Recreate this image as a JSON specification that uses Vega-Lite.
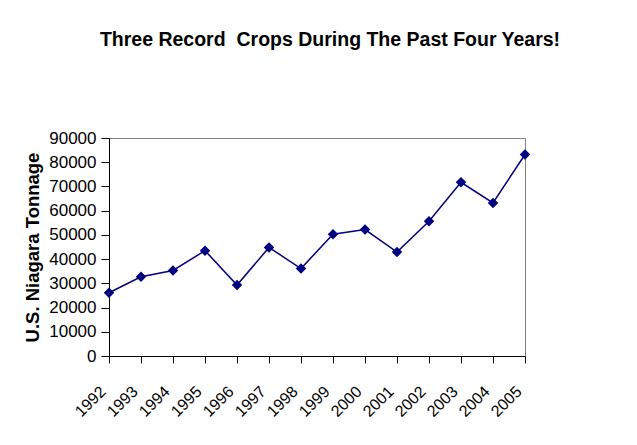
{
  "$schema": "https://vega.github.io/schema/vega-lite/v6.json",
  "width": 416,
  "height": 218,
  "autosize": "none",
  "padding": {"left": 109, "top": 138, "right": 112, "bottom": 89},
  "background": "white",
  "title": {
    "text": "Three Record\u00a0\u00a0Crops During The Past Four Years!",
    "font": "Liberation Sans",
    "fontSize": 19.5,
    "fontWeight": "bold",
    "color": "black",
    "anchor": "middle",
    "dx": 13,
    "offset": 79
  },
  "config": {
    "view": {"stroke": "#808080", "strokeWidth": 1},
    "axis": {
      "labelFont": "Liberation Sans",
      "titleFont": "Liberation Sans",
      "labelColor": "black",
      "titleColor": "black",
      "domainColor": "black",
      "tickColor": "black",
      "grid": false
    }
  },
  "data": {
    "values": [
      {"year": "1992", "tonnage": 26100},
      {"year": "1993", "tonnage": 32700},
      {"year": "1994", "tonnage": 35300},
      {"year": "1995", "tonnage": 43500},
      {"year": "1996", "tonnage": 29300},
      {"year": "1997", "tonnage": 44800},
      {"year": "1998", "tonnage": 36100},
      {"year": "1999", "tonnage": 50300},
      {"year": "2000", "tonnage": 52200},
      {"year": "2001", "tonnage": 42900},
      {"year": "2002", "tonnage": 55600},
      {"year": "2003", "tonnage": 71700},
      {"year": "2004", "tonnage": 63200},
      {"year": "2005", "tonnage": 83200}
    ]
  },
  "encoding": {
    "x": {
      "field": "year",
      "type": "ordinal",
      "scale": {"type": "point", "padding": 0},
      "axis": {
        "title": null,
        "labelAngle": -45,
        "labelFontSize": 16,
        "tickSize": 7,
        "labelPadding": 20,
        "labelOffset": -12,
        "domainWidth": 1
      }
    },
    "y": {
      "field": "tonnage",
      "type": "quantitative",
      "scale": {"domain": [0, 90000], "nice": false},
      "axis": {
        "title": "U.S. Niagara Tonnage",
        "titleFontSize": 18.5,
        "titleFontWeight": "bold",
        "titlePadding": 6,
        "labelFontSize": 17,
        "tickSize": 8,
        "labelPadding": 5,
        "values": [0, 10000, 20000, 30000, 40000, 50000, 60000, 70000, 80000, 90000],
        "format": "d",
        "domainWidth": 1
      }
    }
  },
  "layer": [
    {"mark": {"type": "line", "color": "#000080", "strokeWidth": 1.5}},
    {"mark": {"type": "point", "shape": "diamond", "filled": true, "color": "#000080", "size": 110, "opacity": 1}}
  ]
}
